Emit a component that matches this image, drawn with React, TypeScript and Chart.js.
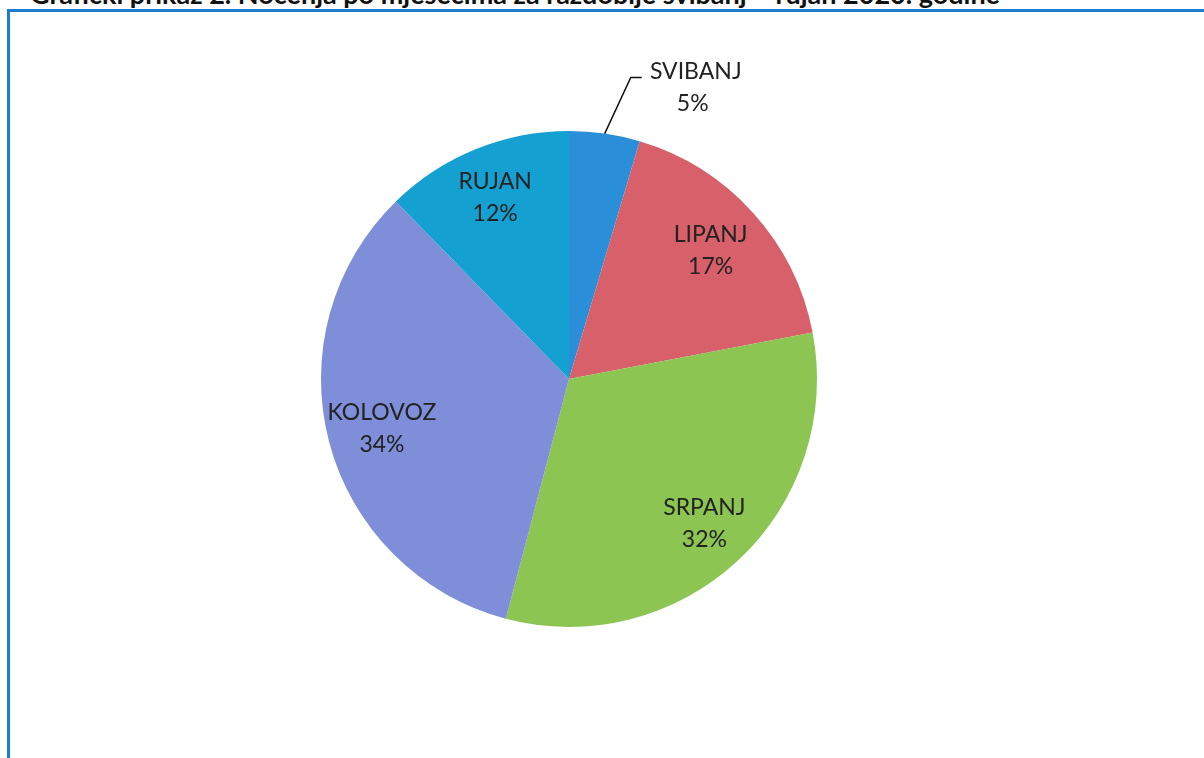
import React, { useEffect, useRef } from "react";
import { Chart, registerables } from "chart.js";

Chart.register(...registerables);

const titleText = "Grafički prikaz 2. Noćenja po mjesecima za razdoblje svibanj – rujan 2020. godine";
const months = ["SVIBANJ", "LIPANJ", "SRPANJ", "KOLOVOZ", "RUJAN"];
const shares = [4.6, 17.4, 32.1, 33.6, 12.3];
const pctLabels = ["5%", "17%", "32%", "34%", "12%"];
const sliceColors = ["#2a8ed8", "#d8606a", "#8cc552", "#7f8ed8", "#14a0d0"];

const labelRadius = [1.0, 0.77, 0.8, 0.78, 0.79];

const labelPlugin = {
  id: "sliceLabels",
  afterDraw(chart: any) {
    const ctx = chart.ctx;
    const meta = chart.getDatasetMeta(0);
    ctx.save();
    ctx.font = "23px Lato, 'Open Sans', sans-serif";
    ctx.fillStyle = "#222222";
    ctx.textAlign = "center";
    ctx.textBaseline = "middle";
    meta.data.forEach((arc: any, i: number) => {
      const { x, y, startAngle, endAngle, outerRadius } = arc.getProps(
        ["x", "y", "startAngle", "endAngle", "outerRadius"],
        true
      );
      const mid = (startAngle + endAngle) / 2;
      if (i === 0) {
        // outside label with leader line
        const ex = x + Math.cos(mid) * outerRadius;
        const ey = y + Math.sin(mid) * outerRadius;
        const bx = ex + outerRadius * 0.105;
        const by = ey - outerRadius * 0.226;
        ctx.strokeStyle = "#111111";
        ctx.lineWidth = 1.5;
        ctx.beginPath();
        ctx.moveTo(ex, ey);
        ctx.lineTo(bx, by);
        ctx.lineTo(bx + 11, by);
        ctx.stroke();
        const lx = bx + 65;
        const ly = by + 10;
        ctx.fillText(months[i], lx, ly - 16);
        ctx.fillText(pctLabels[i], lx - 3, ly + 16);
      } else {
        const r = outerRadius * labelRadius[i];
        const lx = x + Math.cos(mid) * r;
        const ly = y + Math.sin(mid) * r;
        ctx.fillText(months[i], lx, ly - 16);
        ctx.fillText(pctLabels[i], lx, ly + 16);
      }
    });
    ctx.restore();
  },
};

export default function App() {
  const canvasRef = useRef<HTMLCanvasElement | null>(null);

  useEffect(() => {
    if (!canvasRef.current) return;
    const chart = new Chart(canvasRef.current, {
      type: "pie",
      data: {
        labels: months,
        datasets: [
          {
            data: shares,
            backgroundColor: sliceColors,
            borderWidth: 0,
          },
        ],
      },
      options: {
        animation: false,
        responsive: false,
        maintainAspectRatio: false,
        layout: { padding: { left: 321, right: 387, top: 131, bottom: 131 } },
        plugins: {
          legend: { display: false },
          tooltip: { enabled: false },
          title: { display: false },
        },
      },
      plugins: [labelPlugin],
    });
    return () => chart.destroy();
  }, []);

  return (
    <div
      style={{
        position: "fixed",
        left: 0,
        top: 0,
        width: 1204,
        height: 758,
        overflow: "hidden",
        background: "#ffffff",
      }}
    >
      <div
        style={{
          position: "absolute",
          left: 30,
          top: -20,
          fontFamily: "Lato, 'Open Sans', sans-serif",
          fontWeight: 700,
          fontSize: 27,
          lineHeight: "27px",
          color: "#111111",
          whiteSpace: "nowrap",
        }}
      >
        {titleText}
      </div>
      <div
        style={{
          position: "absolute",
          left: 7,
          top: 9,
          width: 1230,
          height: 800,
          border: "3px solid #1b7dcf",
          boxSizing: "border-box",
        }}
      />
      <canvas
        ref={canvasRef}
        width={1204}
        height={758}
        style={{ position: "absolute", left: 0, top: 0 }}
      />
    </div>
  );
}
